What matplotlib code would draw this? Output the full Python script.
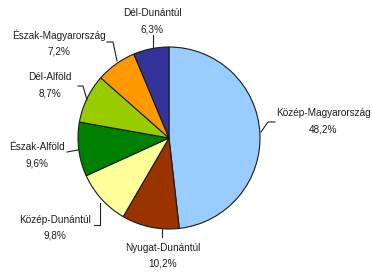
import matplotlib
matplotlib.use("Agg")
import matplotlib.pyplot as plt

regions = ['Közép-Magyarország', 'Nyugat-Dunántúl', 'Közép-Dunántúl',
           'Észak-Alföld', 'Dél-Alföld', 'Észak-Magyarország', 'Dél-Dunántúl']
shares = [48.2, 10.2, 9.8, 9.6, 8.7, 7.2, 6.3]
pct_labels = ['48,2%', '10,2%', '9,8%', '9,6%', '8,7%', '7,2%', '6,3%']
colors = ['#99CCFF', '#993300', '#FFFF99', '#008000', '#99CC00', '#FF9900', '#333399']

W, H = 372, 273

# label layout in pixel coords (top-left origin): name centre, leader polyline
label_pos = [(323, 113), (163, 248), (55, 220), (37, 147), (50, 77), (59, 35), (152, 13)]
leaders = [
    [(275, 122), (268, 122), (261, 132)],
    [(162, 237), (162, 229)],
    [(94, 225), (100, 225), (100, 203)],
    [(67, 152), (78, 150)],
    [(78, 86), (83, 86), (87, 100)],
    [(107, 42), (113, 42), (117, 61)],
    [(153, 35), (153, 48)],
]


def px(p):
    return p[0], H - p[1]


fig = plt.figure(figsize=(W / 100, H / 100), dpi=100)
ax = fig.add_axes([0, 0, 1, 1])

ax.pie(shares, colors=colors, startangle=90, counterclock=False,
       center=px((169, 138)), radius=91, frame=True,
       wedgeprops=dict(edgecolor='#1a1a1a', linewidth=0.8))
ax.set_xlim(0, W)
ax.set_ylim(0, H)
ax.set_aspect('equal')
ax.axis('off')

for name, pct, pos, line in zip(regions, pct_labels, label_pos, leaders):
    x, y = px(pos)
    ax.text(x, y, name, ha='center', va='center', fontsize=7.2,
            family='Liberation Sans', color='#1e1e1e')
    ax.text(x, y - 16, pct, ha='center', va='center', fontsize=7.2,
            family='Liberation Sans', color='#1e1e1e')
    xs = [px(p)[0] for p in line]
    ys = [px(p)[1] for p in line]
    ax.plot(xs, ys, color='#222222', linewidth=0.8)

fig.savefig('out.png', dpi=100)
